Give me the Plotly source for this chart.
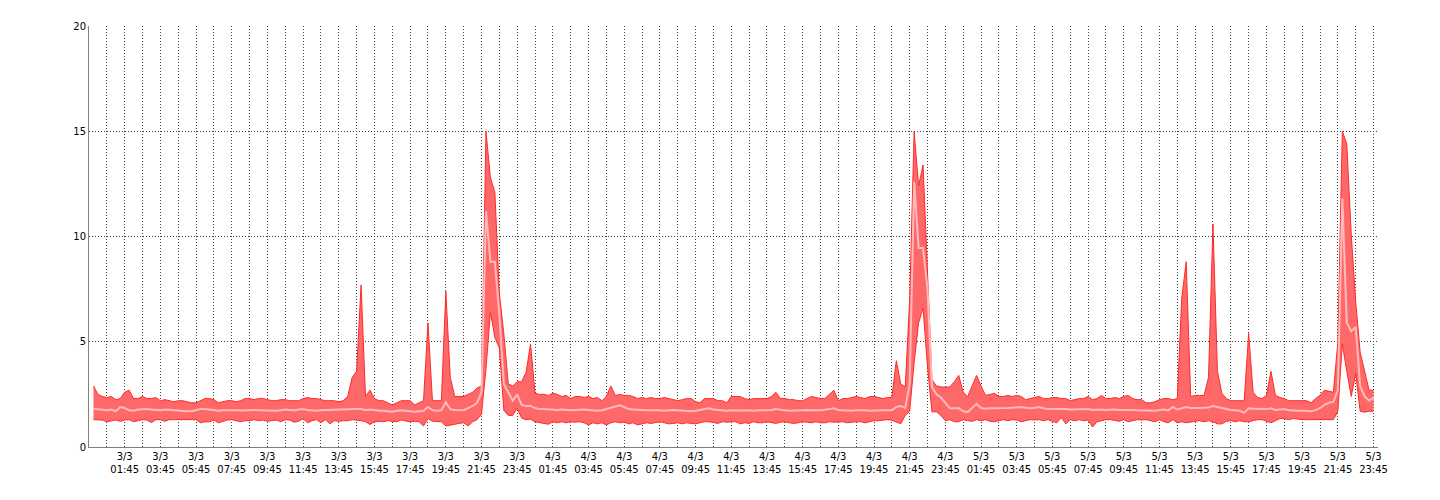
import pandas as pd
import plotly.graph_objects as go

# 15-minute samples, 3/3 00:00 .. 5/3 23:45
start_time = "2024-03-03 00:00"
n_points = 288

upper = [
    2.9, 2.5, 2.4, 2.35, 2.4, 2.25, 2.3, 2.6, 2.7, 2.3, 2.3, 2.4,
    2.3, 2.3, 2.35, 2.2, 2.25, 2.2, 2.15, 2.2, 2.2, 2.15, 2.1, 2.1,
    2.2, 2.3, 2.3, 2.25, 2.1, 2.15, 2.2, 2.2, 2.15, 2.2, 2.3, 2.3,
    2.25, 2.3, 2.3, 2.25, 2.2, 2.2, 2.25, 2.25, 2.2, 2.2, 2.2, 2.3,
    2.35, 2.3, 2.3, 2.25, 2.2, 2.2, 2.2, 2.15, 2.2, 2.4, 3.3, 3.6,
    7.7, 2.4, 2.7, 2.3, 2.2, 2.2, 2.1, 2.0, 2.1, 2.2, 2.2, 2.2,
    2.0, 2.1, 2.2, 5.9, 2.2, 2.2, 2.2, 7.4, 3.3, 2.4, 2.4, 2.4,
    2.5, 2.6, 2.8, 2.9, 15.0, 12.8, 12.1, 7.3, 5.4, 3.0, 2.9, 3.1,
    3.1, 3.55, 4.9, 2.55, 2.5, 2.5, 2.45, 2.55, 2.5, 2.4, 2.45, 2.3,
    2.4, 2.4, 2.35, 2.4, 2.3, 2.35, 2.2, 2.4, 2.9, 2.45, 2.5, 2.45,
    2.45, 2.4, 2.3, 2.35, 2.3, 2.35, 2.3, 2.3, 2.35, 2.3, 2.25, 2.2,
    2.25, 2.3, 2.3, 2.15, 2.1, 2.3, 2.3, 2.3, 2.2, 2.2, 2.1, 2.4,
    2.4, 2.4, 2.3, 2.25, 2.3, 2.3, 2.3, 2.3, 2.4, 2.6, 2.3, 2.3,
    2.25, 2.25, 2.2, 2.2, 2.3, 2.4, 2.35, 2.3, 2.3, 2.5, 2.7, 2.2,
    2.3, 2.3, 2.35, 2.4, 2.35, 2.3, 2.4, 2.4, 2.35, 2.3, 2.35, 2.35,
    4.1, 3.0, 2.85, 7.0, 15.0, 12.4, 13.4, 8.5, 3.2, 2.9, 2.85, 2.85,
    2.85, 3.1, 3.4, 2.6, 2.4, 2.9, 3.4, 2.9, 2.45, 2.5, 2.55, 2.4,
    2.4, 2.45, 2.4, 2.45, 2.4, 2.25, 2.3, 2.35, 2.4, 2.3, 2.3, 2.35,
    2.35, 2.3, 2.3, 2.2, 2.25, 2.3, 2.3, 2.4, 2.25, 2.3, 2.45, 2.3,
    2.3, 2.35, 2.3, 2.4, 2.45, 2.3, 2.25, 2.25, 2.1, 2.1, 2.15, 2.25,
    2.3, 2.3, 2.25, 2.3, 7.1, 8.8, 2.4, 2.45, 2.45, 2.45, 3.3, 10.6,
    3.6, 2.55, 2.3, 2.2, 2.2, 2.2, 2.2, 5.4, 2.6, 2.35, 2.3, 2.45,
    3.6, 2.45, 2.35, 2.3, 2.2, 2.2, 2.2, 2.2, 2.2, 2.1, 2.3, 2.45,
    2.7, 2.65, 2.6, 5.0, 15.0, 14.4, 10.1, 6.9, 4.5, 3.6, 2.7, 2.7,
]

average = [
    1.82, 1.8, 1.78, 1.75, 1.78, 1.7, 1.9, 1.85, 1.75, 1.72, 1.78, 1.8,
    1.8, 1.78, 1.75, 1.75, 1.78, 1.76, 1.75, 1.74, 1.72, 1.7, 1.7, 1.75,
    1.8, 1.8, 1.78, 1.76, 1.72, 1.74, 1.75, 1.76, 1.75, 1.73, 1.75, 1.76,
    1.76, 1.75, 1.74, 1.76, 1.74, 1.72, 1.75, 1.78, 1.76, 1.74, 1.78, 1.8,
    1.76, 1.74, 1.72, 1.74, 1.75, 1.76, 1.74, 1.76, 1.78, 1.78, 1.8, 1.8,
    1.82, 1.75, 1.78, 1.76, 1.72, 1.72, 1.7, 1.68, 1.72, 1.74, 1.72, 1.7,
    1.68, 1.7, 1.72, 1.9, 1.75, 1.72, 1.74, 2.13, 1.8, 1.76, 1.75, 1.75,
    1.85, 1.95, 2.1, 2.6, 11.2, 8.8, 8.8, 6.3, 3.0, 2.6, 2.2, 2.5,
    2.0, 1.95, 1.95, 1.85, 1.8, 1.8, 1.78, 1.78, 1.76, 1.78, 1.75, 1.74,
    1.76, 1.78, 1.78, 1.76, 1.74, 1.72, 1.75, 1.8, 1.85, 1.9, 1.98, 1.9,
    1.8, 1.78, 1.76, 1.76, 1.74, 1.75, 1.76, 1.74, 1.72, 1.75, 1.76, 1.74,
    1.72, 1.72, 1.7, 1.72, 1.75, 1.8, 1.84, 1.78, 1.75, 1.74, 1.72, 1.75,
    1.74, 1.72, 1.73, 1.74, 1.72, 1.74, 1.75, 1.74, 1.76, 1.8, 1.76, 1.74,
    1.72, 1.72, 1.74, 1.75, 1.76, 1.77, 1.75, 1.74, 1.76, 1.8, 1.84, 1.76,
    1.74, 1.72, 1.72, 1.75, 1.76, 1.74, 1.72, 1.74, 1.75, 1.75, 1.74, 1.75,
    1.9, 1.95, 1.85, 3.0, 12.6, 9.45, 9.45, 7.5, 2.85, 2.5, 2.35, 2.1,
    1.84, 1.84, 1.84, 1.7, 1.66, 1.85, 2.05, 1.85, 1.82, 1.84, 1.84, 1.82,
    1.84, 1.85, 1.86, 1.88, 1.9, 1.86, 1.84, 1.86, 1.9, 1.84, 1.8, 1.8,
    1.8, 1.82, 1.8, 1.78, 1.78, 1.8, 1.78, 1.8, 1.76, 1.78, 1.78, 1.76,
    1.78, 1.78, 1.76, 1.77, 1.77, 1.76, 1.74, 1.73, 1.72, 1.71, 1.72, 1.76,
    1.78, 1.74, 1.9, 1.78, 1.85, 1.9, 1.85, 1.84, 1.85, 1.86, 1.88, 1.95,
    1.9, 1.84, 1.8, 1.76, 1.74, 1.72, 1.62, 1.84, 1.82, 1.8, 1.82, 1.8,
    1.84, 1.76, 1.78, 1.8, 1.74, 1.72, 1.72, 1.72, 1.72, 1.7, 1.75, 1.85,
    2.0, 2.1, 2.15, 2.7, 11.8, 5.9, 5.5, 5.7, 2.9, 2.4, 2.2, 2.35,
]

lower = [
    1.3, 1.3, 1.28, 1.2, 1.25, 1.28, 1.22, 1.28, 1.3, 1.2, 1.25, 1.3,
    1.28, 1.16, 1.3, 1.3, 1.22, 1.3, 1.3, 1.3, 1.3, 1.3, 1.3, 1.3,
    1.15, 1.2, 1.2, 1.28, 1.15, 1.22, 1.28, 1.3, 1.25, 1.2, 1.25, 1.25,
    1.3, 1.25, 1.28, 1.22, 1.25, 1.28, 1.2, 1.3, 1.28, 1.18, 1.22, 1.35,
    1.15, 1.25, 1.3, 1.15, 1.3, 1.1, 1.25, 1.22, 1.25, 1.25, 1.3, 1.28,
    1.25, 1.2, 1.07, 1.2, 1.22, 1.2, 1.25, 1.22, 1.2, 1.28, 1.25, 1.2,
    1.22, 1.2, 1.0, 1.35, 1.22, 1.2, 1.2, 1.0, 1.05, 1.1, 1.12, 1.15,
    1.0, 1.2, 1.3, 1.55, 3.7, 6.4, 5.2, 4.7, 1.75, 1.5, 1.5, 1.84,
    1.37, 1.3, 1.32, 1.2, 1.15, 1.12, 1.08, 1.2, 1.15, 1.2, 1.15, 1.2,
    1.18, 1.2, 1.15, 1.05, 1.15, 1.1, 1.15, 1.05, 1.15, 1.2, 1.15, 1.18,
    1.1, 1.15, 1.05, 1.1, 1.15, 1.12, 1.15, 1.2, 1.15, 1.1, 1.12, 1.15,
    1.1, 1.15, 1.12, 1.1, 1.15, 1.2, 1.2, 1.15, 1.12, 1.2, 1.18, 1.2,
    1.2, 1.1, 1.15, 1.12, 1.2, 1.15, 1.15, 1.2, 1.15, 1.12, 1.18, 1.2,
    1.15, 1.12, 1.15, 1.2, 1.18, 1.15, 1.2, 1.15, 1.15, 1.2, 1.18, 1.2,
    1.2, 1.15, 1.18, 1.2, 1.2, 1.15, 1.2, 1.25, 1.25, 1.28, 1.3, 1.27,
    1.2, 1.1, 1.5, 1.7, 4.0, 5.9, 6.6, 3.8, 1.67, 1.67, 1.5, 1.25,
    1.3, 1.2, 1.2, 1.3, 1.25, 1.22, 1.3, 1.25, 1.3, 1.22, 1.2, 1.25,
    1.3, 1.25, 1.3, 1.28, 1.2, 1.25, 1.3, 1.28, 1.3, 1.25, 1.3, 1.22,
    1.15, 1.4, 1.1, 1.3, 1.25, 1.3, 1.25, 1.28, 0.95, 1.2, 1.25, 1.3,
    1.3, 1.25, 1.22, 1.3, 1.2, 1.25, 1.3, 1.28, 1.3, 1.25, 1.2, 1.3,
    1.2, 1.15, 1.3, 1.15, 1.2, 1.15, 1.2, 1.22, 1.25, 1.2, 1.25, 1.2,
    1.1, 1.1, 1.22, 1.25, 1.2, 1.25, 1.2, 1.2, 1.25, 1.3, 1.3, 1.22,
    1.15, 1.25, 1.35, 1.35, 1.3, 1.35, 1.32, 1.3, 1.3, 1.3, 1.3, 1.3,
    1.3, 1.3, 1.3, 1.7, 4.9, 3.6, 2.4, 3.5, 1.7, 1.65, 1.7, 1.7,
]

y_ticks = [0, 5, 10, 15, 20]
x_range = ["2024-03-02 23:45", "2024-03-06 00:00"]

times = pd.date_range(start_time, periods=n_points, freq="15min")

# hourly gridlines at hh:45, labels every two hours
tick_times = pd.date_range("2024-03-03 00:45", "2024-03-05 23:45", freq="1h")
tick_text = [
    f"{t.day}/{t.month}<br>{t:%H:%M}" if t.hour % 2 == 1 else ""
    for t in tick_times
]

fig = go.Figure()
fig.add_trace(go.Scatter(
    x=times, y=lower, mode="lines",
    line=dict(color="#ff2a2a", width=1),
    hoverinfo="skip", showlegend=False,
))
fig.add_trace(go.Scatter(
    x=times, y=upper, mode="lines", fill="tonexty",
    fillcolor="#ff6868",
    line=dict(color="#ff2a2a", width=1),
    showlegend=False,
))
fig.add_trace(go.Scatter(
    x=times, y=average, mode="lines",
    line=dict(color="#ffbaba", width=2),
    showlegend=False,
))

fig.update_layout(
    width=1440, height=500,
    margin=dict(l=81, r=70, t=15, b=61),
    paper_bgcolor="white", plot_bgcolor="white",
    font=dict(family="DejaVu Sans", size=10, color="#000000"),
    showlegend=False,
)
fig.update_xaxes(
    range=x_range,
    tickmode="array", tickvals=tick_times, ticktext=tick_text,
    showgrid=True, gridcolor="#404040", griddash="1px,2px", gridwidth=1,
    showline=True, linecolor="#808080", linewidth=1,
    ticks="", zeroline=False,
    tickfont=dict(family="DejaVu Sans", size=10, color="#000000"),
)
fig.update_yaxes(
    range=[0, 20], tickvals=y_ticks,
    showgrid=True, gridcolor="#404040", griddash="1px,2px", gridwidth=1,
    showline=True, linecolor="#808080", linewidth=1,
    ticks="", zeroline=False,
    tickfont=dict(family="DejaVu Sans", size=10, color="#000000"),
)

fig.write_html("out.html")
